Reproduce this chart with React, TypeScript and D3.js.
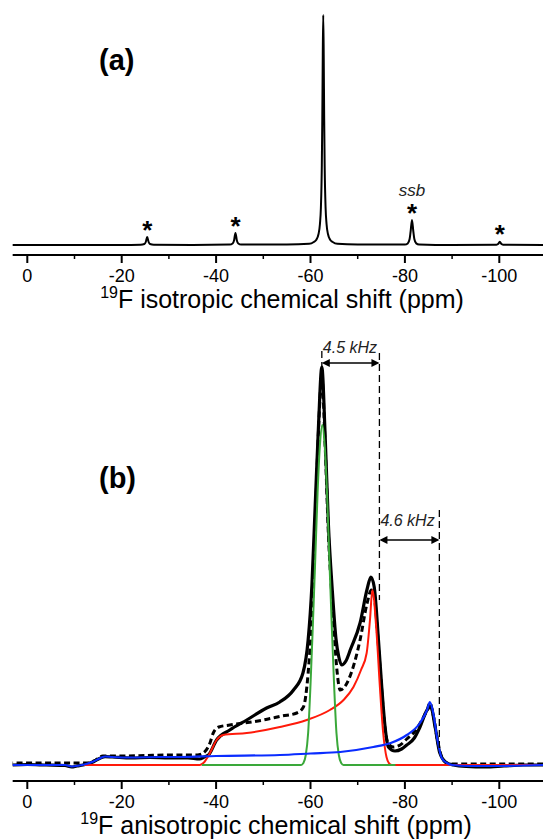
import * as d3 from 'd3'

// 19F MAS NMR: (a) isotropic spectrum, (b) anisotropic slice with fit components
// points are [ppm, intensity], intensity read off the picture

const majorTicks = [0, -20, -40, -60, -80, -100]
const minorTicks = [-10, -30, -50, -70, -90, -110]

const isoSpectrum: [number, number][] = [
  [3.1, 0], [-10, 0], [-20, 0], [-24, 0.3], [-24.8, 1], [-25.1, 3], [-25.4, 8], [-25.7, 3], [-26, 1], [-26.8, 0.3],
  [-35, 0], [-42.9, 0.4], [-43.5, 1.5], [-43.8, 4.5], [-44.1, 12], [-44.4, 4.5], [-44.7, 1.5], [-45.3, 0.4],
  [-55, 0.5], [-59.7, 1.2], [-60.7, 3], [-61.2, 5], [-61.7, 11], [-62.0, 21], [-62.2, 37], [-62.4, 80], [-62.5, 126],
  [-62.6, 190], [-62.7, 230], [-62.8, 190], [-62.9, 126], [-63.0, 80], [-63.2, 37], [-63.4, 21], [-63.7, 11],
  [-64.2, 5], [-64.7, 3], [-65.7, 1.2], [-70, 0.5], [-80, 0.4], [-80.6, 1.6], [-81.0, 6], [-81.2, 13], [-81.5, 25],
  [-81.8, 13], [-82.0, 6], [-82.4, 1.6], [-83, 0.5], [-90, 0], [-99.4, 0.3], [-99.8, 1.2], [-100.1, 3.3],
  [-100.4, 1.2], [-100.8, 0.3], [-109.3, 0],
]

// spinning sidebands marked with *
const sidebandPpm = [-25.4, -44.1, -81.5, -100.1]
const sidebandHeight = [8, 12, 25, 3.3]

const experimental: [number, number][] = [
  [3.1, 0], [0, 0.5], [-4, 0], [-8, -0.5], [-9.4, -2], [-10.5, -1], [-11.8, 0], [-13.9, 3], [-15.4, 6.7], [-16.5, 8.3],
  [-18, 8], [-22, 7], [-26, 7.5], [-30, 7], [-34, 7], [-36.5, 6], [-37.5, 8], [-38.4, 10], [-40.1, 25], [-42.9, 35],
  [-46.5, 45], [-50.7, 57], [-53.5, 63], [-56.4, 75], [-58.4, 92], [-59.5, 125], [-60.3, 180], [-61.0, 260],
  [-61.7, 340], [-62.4, 398], [-63.1, 330], [-63.8, 240], [-64.6, 176], [-65.4, 126], [-66.0, 108], [-66.6, 100],
  [-67.5, 104], [-68.5, 116], [-70.5, 142], [-72, 176], [-72.8, 188], [-73.5, 178], [-74.4, 125], [-75.1, 78],
  [-75.8, 38], [-76.5, 18], [-77.9, 14], [-79.3, 16], [-80.4, 20], [-82, 27], [-83.2, 38], [-84.7, 55], [-85.5, 58],
  [-86.4, 38], [-87.4, 12], [-88.9, 2], [-90.3, 0], [-93, -1.5], [-97, -2], [-101, -1], [-105, 0], [-109.3, 0],
]

const fitSum: [number, number][] = [
  [3.1, 2], [-5, 2], [-10, 2], [-12.5, 2], [-14.5, 5], [-16, 9], [-20, 9], [-25, 9.5], [-30, 10], [-36, 10],
  [-37.3, 12], [-38.7, 22], [-39.4, 32], [-40.6, 38], [-42.9, 40], [-46, 42], [-50, 45], [-54, 49], [-57.1, 52],
  [-58.5, 58], [-59.5, 92], [-60.3, 150], [-61, 240], [-61.7, 335], [-62.4, 388], [-63.1, 320], [-63.8, 230],
  [-64.8, 150], [-65.6, 95], [-66.3, 75], [-67.5, 80], [-68.7, 93], [-70.5, 125], [-72, 162], [-72.9, 175],
  [-73.6, 165], [-74.3, 125], [-75, 80], [-75.7, 40], [-76.4, 22], [-77.5, 18], [-79, 20], [-80.4, 26], [-82, 33],
  [-83.5, 44], [-84.7, 55], [-85.3, 62], [-86, 50], [-86.9, 25], [-87.8, 8], [-88.9, 2], [-90, 1], [-109.3, 1],
]

const redSite: [number, number][] = [
  [-12, 0], [-36.5, 0], [-37.3, 2], [-38.7, 12], [-40.1, 25], [-41.5, 30], [-46.5, 32], [-53.5, 38], [-59.2, 45],
  [-64.1, 55], [-67, 65], [-69.1, 78], [-70.7, 95], [-71.9, 112], [-72.6, 145], [-73.1, 175], [-74, 132],
  [-74.7, 78], [-75.4, 32], [-76.1, 8], [-76.8, 1], [-77.5, 0], [-109.3, 0],
]

const greenSite: [number, number][] = [
  [-37, 0], [-58, 0], [-58.5, 2], [-59, 10], [-59.5, 32], [-60, 80], [-60.5, 140], [-61, 205], [-61.5, 272],
  [-62, 320], [-62.5, 340], [-63, 320], [-63.5, 272], [-64, 205], [-64.5, 140], [-65, 80], [-65.5, 32],
  [-66, 10], [-66.5, 2], [-67, 0], [-78, 0],
]

const blueSite: [number, number][] = [
  [3.1, 0], [0, 0], [-8, 0], [-9.4, -1.5], [-11, -0.5], [-12.5, 1], [-14, 3.5], [-15.5, 7], [-16.5, 8.5], [-18, 8],
  [-22, 7.5], [-28, 8], [-32.4, 8], [-40, 9], [-53.5, 10], [-60, 11.5], [-66.3, 13], [-73.3, 18], [-77, 22],
  [-80.4, 30], [-83.2, 42], [-84.7, 55], [-85.3, 63], [-86, 52], [-86.9, 25], [-87.8, 7], [-88.9, 2], [-90, 0],
  [-94, -1], [-100, -1], [-109.3, 0],
]

// splitting annotations (ppm, intensity in panel b units)
const split1 = { from: -62.4, to: -74.6, level: 402, label: '4.5 kHz' }
const split2 = { from: -74.6, to: -87.3, level: 225, label: '4.6 kHz' }

const FONT = "'Liberation Sans', Arial, sans-serif"

const x = d3.scaleLinear().domain([0, -100]).range([27.3, 499.3])
const yTop = d3.scaleLinear().domain([0, 230]).range([245, 15])
const yBot = d3.scaleLinear().domain([0, 400]).range([765, 365])

function Axis({ y, title, titleX }: { y: number; title: string; titleX: number }) {
  return (
    <g>
      <line x1={x(3.1)} x2={543} y1={y} y2={y} stroke="#000" strokeWidth={2} />
      {majorTicks.map((t) => (
        <g key={t}>
          <line x1={x(t)} x2={x(t)} y1={y} y2={y + 8} stroke="#000" strokeWidth={2} />
          <text x={x(t)} y={y + 27} textAnchor="middle" fontSize={18} fontFamily={FONT}>
            {String(t)}
          </text>
        </g>
      ))}
      {minorTicks.map((t) => (
        <line key={t} x1={x(t)} x2={x(t)} y1={y} y2={y + 4} stroke="#000" strokeWidth={1.5} />
      ))}
      <text x={titleX} y={y + 53} textAnchor="middle" fontSize={25} fontFamily={FONT}>
        <tspan fontSize={16} dy={-10}>19</tspan>
        <tspan dy={10}>{title}</tspan>
      </text>
    </g>
  )
}

function Arrow({ x1, x2, y }: { x1: number; x2: number; y: number }) {
  const h = 8
  const w = 4
  return (
    <g>
      <line x1={x1 + 2} x2={x2 - 2} y1={y} y2={y} stroke="#000" strokeWidth={1.5} />
      <path d={`M${x1},${y}L${x1 + h},${y - w}L${x1 + h},${y + w}Z`} fill="#000" />
      <path d={`M${x2},${y}L${x2 - h},${y - w}L${x2 - h},${y + w}Z`} fill="#000" />
    </g>
  )
}

export default function App() {
  const lineTop = d3.line<[number, number]>().x((d) => x(d[0])).y((d) => yTop(d[1])).curve(d3.curveMonotoneX)
  const lineBot = d3.line<[number, number]>().x((d) => x(d[0])).y((d) => yBot(d[1])).curve(d3.curveMonotoneX)
  const sorted = (arr: [number, number][]) => [...arr].sort((a, b) => a[0] - b[0])

  const dash = '7,4'

  return (
    <svg width={543} height={840} style={{ position: 'absolute', left: 0, top: 0, background: '#fff' }}>
      {/* (a) */}
      <text x={99} y={70} fontSize={29} fontWeight="bold" fontFamily={FONT}>(a)</text>
      <path d={lineTop(sorted(isoSpectrum)) ?? ''} fill="none" stroke="#000" strokeWidth={2} strokeLinejoin="round" />
      {sidebandPpm.map((p, i) => (
        <text key={p} x={x(p)} y={yTop(sidebandHeight[i]) + 1.5} textAnchor="middle" fontSize={26} fontWeight="bold" fontFamily={FONT}>
          *
        </text>
      ))}
      <text x={x(-81.5)} y={196} textAnchor="middle" fontSize={17} fontStyle="italic" fill="#222" fontFamily={FONT}>
        ssb
      </text>
      <Axis y={255} title="F isotropic chemical shift (ppm)" titleX={282} />

      {/* (b) */}
      <text x={99} y={488} fontSize={29} fontWeight="bold" fontFamily={FONT}>(b)</text>
      <path d={lineBot(sorted(experimental)) ?? ''} fill="none" stroke="#000" strokeWidth={3.2} strokeLinejoin="round" />
      <path d={lineBot(sorted(fitSum)) ?? ''} fill="none" stroke="#000" strokeWidth={3} strokeDasharray="6,3.5" />
      <path d={lineBot(sorted(redSite)) ?? ''} fill="none" stroke="#ff1a0a" strokeWidth={2} />
      <path d={lineBot(sorted(greenSite)) ?? ''} fill="none" stroke="#3aa83a" strokeWidth={2} />
      <path d={lineBot(sorted(blueSite)) ?? ''} fill="none" stroke="#0a2cff" strokeWidth={2.2} />

      {/* splitting markers */}
      <line x1={x(split1.from)} x2={x(split1.from)} y1={yBot(414)} y2={yBot(398)} stroke="#000" strokeWidth={1.3} strokeDasharray={dash} />
      <line x1={x(split1.to)} x2={x(split1.to)} y1={yBot(412)} y2={yBot(165)} stroke="#000" strokeWidth={1.3} strokeDasharray={dash} />
      <line x1={x(split2.to)} x2={x(split2.to)} y1={yBot(255)} y2={yBot(15)} stroke="#000" strokeWidth={1.3} strokeDasharray={dash} />
      <Arrow x1={x(split1.from)} x2={x(split1.to)} y={yBot(split1.level)} />
      <Arrow x1={x(split2.from)} x2={x(split2.to)} y={yBot(split2.level)} />
      <text x={x(split1.from) + 1} y={353} fontSize={16} fontStyle="italic" fill="#222" fontFamily={FONT}>
        {split1.label}
      </text>
      <text x={x(split2.from) + 1} y={526} fontSize={16} fontStyle="italic" fill="#222" fontFamily={FONT}>
        {split2.label}
      </text>
      <Axis y={781} title="F anisotropic chemical shift (ppm)" titleX={276} />
    </svg>
  )
}
